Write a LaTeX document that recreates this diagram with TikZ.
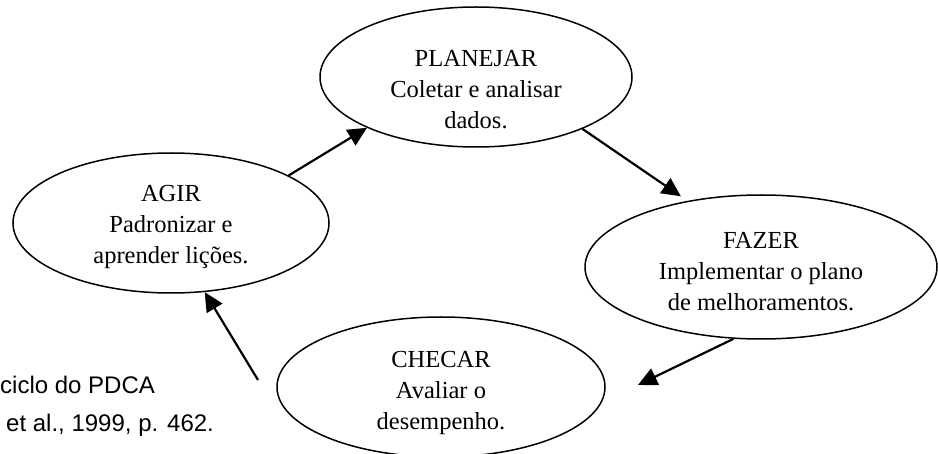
\documentclass[tikz,border=0pt]{standalone}
\usepackage{fontspec}
\setmainfont{Liberation Serif}
\newfontfamily\captionfont{Liberation Sans}
\usetikzlibrary{shapes.geometric,arrows.meta}
\begin{document}
\begin{tikzpicture}
% 1pt = 1px of the page, y runs downwards
[x=1pt,y=-1pt,
phase/.style={draw,ellipse,line width=1.5pt,inner sep=0pt},
phasetext/.style={align=center,inner sep=0pt,font=\fontsize{24.5}{31}\selectfont},
cyclearrow/.style={line width=2.2pt,-{Triangle[length=19pt,width=18pt]}}]
\useasboundingbox (0,0) rectangle (938,454);
\clip (0,0) rectangle (938,454);
% 312 = 2*rx, 140 = 2*ry
\node[phase,minimum width=312pt,minimum height=140pt] (planejar) at (476,77) {};
\node[phase,minimum width=316pt,minimum height=140pt] (agir) at (171,223) {};
\node[phase,minimum width=352pt,minimum height=144pt] (fazer) at (761,267) {};
\node[phase,minimum width=328pt,minimum height=140pt] (checar) at (441,387) {};
\node[phasetext] (planejartxt) at (476,90) {PLANEJAR\\Coletar e analisar\\dados.};
\node[phasetext] (agirtxt) at (171,227) {AGIR\\Padronizar e\\aprender lições.};
\node[phasetext] (fazertxt) at (761,272) {FAZER\\Implementar o plano\\de melhoramentos.};
\node[phasetext] (checartxt) at (441,393) {CHECAR\\Avaliar o\\desempenho.};
% caption, cut at the left edge
\node[anchor=base west,inner sep=0pt,font=\captionfont\fontsize{24}{29}\selectfont] (ciclo) at (0,394) {ciclo do PDCA};
\node[anchor=base west,inner sep=0pt,font=\captionfont\fontsize{24}{29}\selectfont] (fonte) at (6,432) {et al., 1999, p. 462.};
% arrows
\coordinate (fromcheck) at (258,380);
\coordinate (tocheck) at (638,385);
\draw[cyclearrow] (agir.22) -- (planejar.205);
\draw[cyclearrow,shorten >=8pt] (planejar.334) -- (fazer.138);
\draw[cyclearrow] (fazer.249) -- (tocheck);
\draw[cyclearrow] (fromcheck) -- (agir.296);
\end{tikzpicture}
\end{document}
